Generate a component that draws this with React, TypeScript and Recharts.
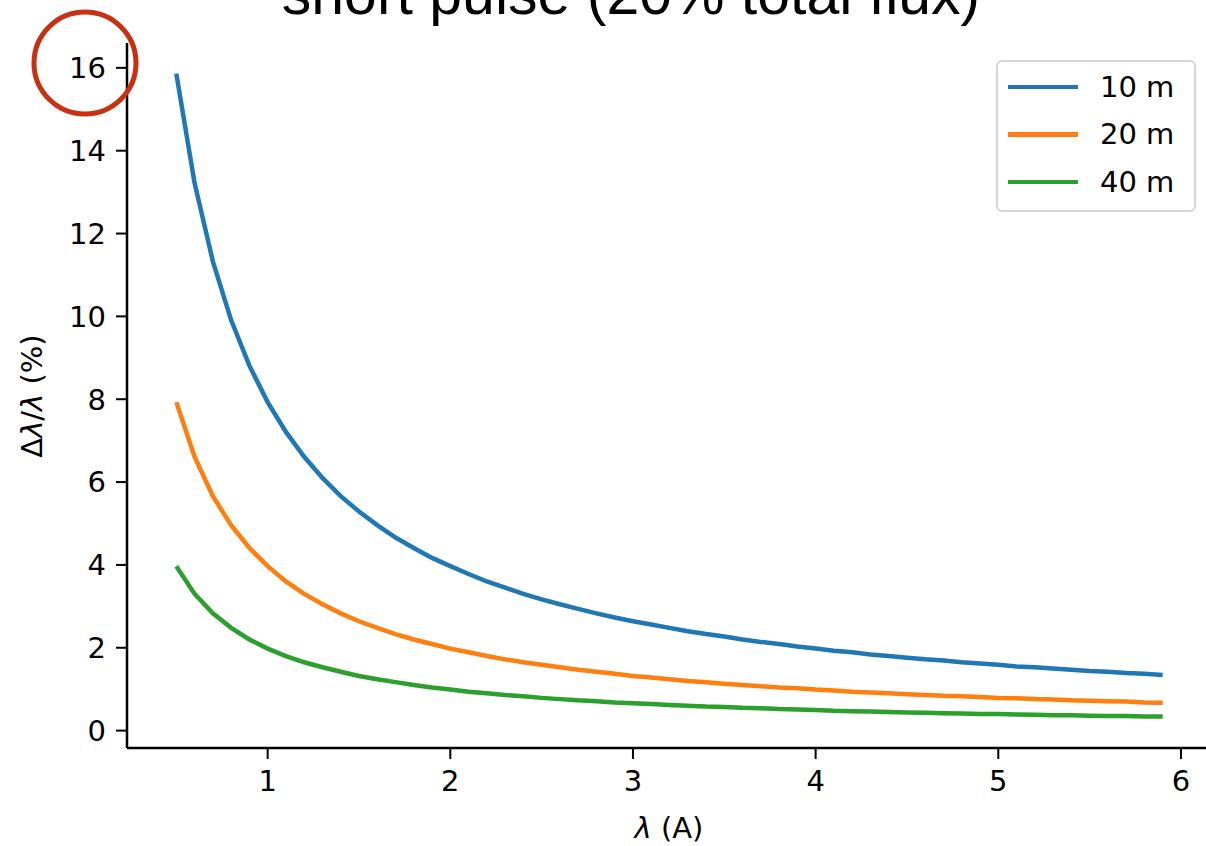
import React from "react"
import { LineChart, Line, XAxis, YAxis, Legend } from "recharts"

// wavelength (A)
const lambda = [
  0.5, 0.6, 0.7, 0.8, 0.9, 1.0, 1.1, 1.2, 1.3, 1.4, 1.5, 1.6, 1.7, 1.8, 1.9,
  2.0, 2.1, 2.2, 2.3, 2.4, 2.5, 2.6, 2.7, 2.8, 2.9, 3.0, 3.1, 3.2, 3.3, 3.4,
  3.5, 3.6, 3.7, 3.8, 3.9, 4.0, 4.1, 4.2, 4.3, 4.4, 4.5, 4.6, 4.7, 4.8, 4.9,
  5.0, 5.1, 5.2, 5.3, 5.4, 5.5, 5.6, 5.7, 5.8, 5.9,
]

// dl/l (%) per flight path
const res10m = [
  15.86, 13.22, 11.33, 9.91, 8.81, 7.93, 7.21, 6.61, 6.10, 5.66, 5.29, 4.96, 4.66, 4.41, 4.17,
  3.97, 3.78, 3.60, 3.45, 3.30, 3.17, 3.05, 2.94, 2.83, 2.73, 2.64, 2.56, 2.48, 2.40, 2.33,
  2.27, 2.20, 2.14, 2.09, 2.03, 1.98, 1.93, 1.89, 1.84, 1.80, 1.76, 1.72, 1.69, 1.65, 1.62,
  1.59, 1.55, 1.53, 1.50, 1.47, 1.44, 1.42, 1.39, 1.37, 1.34,
]
const res20m = [
  7.93, 6.61, 5.66, 4.96, 4.41, 3.97, 3.60, 3.30, 3.05, 2.83, 2.64, 2.48, 2.33, 2.20, 2.09,
  1.98, 1.89, 1.80, 1.72, 1.65, 1.59, 1.53, 1.47, 1.42, 1.37, 1.32, 1.28, 1.24, 1.20, 1.17,
  1.13, 1.10, 1.07, 1.04, 1.02, 0.99, 0.97, 0.94, 0.92, 0.90, 0.88, 0.86, 0.84, 0.83, 0.81,
  0.79, 0.78, 0.76, 0.75, 0.73, 0.72, 0.71, 0.70, 0.68, 0.67,
]
const res40m = [
  3.97, 3.30, 2.83, 2.48, 2.20, 1.98, 1.80, 1.65, 1.53, 1.42, 1.32, 1.24, 1.17, 1.10, 1.04,
  0.99, 0.94, 0.90, 0.86, 0.83, 0.79, 0.76, 0.73, 0.71, 0.68, 0.66, 0.64, 0.62, 0.60, 0.58,
  0.57, 0.55, 0.54, 0.52, 0.51, 0.50, 0.48, 0.47, 0.46, 0.45, 0.44, 0.43, 0.42, 0.41, 0.40,
  0.40, 0.39, 0.38, 0.37, 0.37, 0.36, 0.35, 0.35, 0.34, 0.34,
]

const xTicks = [1, 2, 3, 4, 5, 6]
const yTicks = [0, 2, 4, 6, 8, 10, 12, 14, 16]

const series = [
  { key: "m10", name: "10 m", color: "#1f77b4" },
  { key: "m20", name: "20 m", color: "#ff7f0e" },
  { key: "m40", name: "40 m", color: "#2ca02c" },
]

const data = lambda.map((x, i) => ({ x, m10: res10m[i], m20: res20m[i], m40: res40m[i] }))

const FONT = "'DejaVu Sans', sans-serif"
const tickStyle = { fontSize: 29, fill: "#000", fontFamily: FONT }

function LegendBox({ payload }: any) {
  return (
    <div
      style={{
        boxSizing: "border-box",
        width: 200,
        height: 152,
        border: "2px solid #d6d6d6",
        borderRadius: 6,
        background: "#fff",
        padding: "1px 0 0 10px",
        fontFamily: FONT,
        fontSize: 29,
        textAlign: "left",
      }}
    >
      {(payload || []).map((p: any) => (
        <div key={p.value} style={{ display: "flex", alignItems: "center", height: 47.5 }}>
          <div style={{ width: 70, height: 4.5, background: p.color }} />
          <span style={{ marginLeft: 22, color: "#000" }}>{p.value}</span>
        </div>
      ))}
    </div>
  )
}

export default function App() {
  return (
    <div style={{ position: "absolute", left: 0, top: 0, width: 1206, height: 846, overflow: "hidden", background: "#fff" }}>
      <LineChart width={1220} height={846} data={data} margin={{ top: 43, right: 8, left: 0, bottom: 0 }}>
        <XAxis
          dataKey="x"
          type="number"
          domain={[0.23, 6.17]}
          ticks={xTicks}
          allowDataOverflow
          height={98}
          tick={tickStyle}
          tickSize={11}
          tickMargin={11}
          axisLine={{ stroke: "#000", strokeWidth: 2.5 }}
          tickLine={{ stroke: "#000", strokeWidth: 2 }}
        />
        <XAxis
          xAxisId="top"
          orientation="top"
          dataKey="x"
          type="number"
          domain={[0.23, 6.17]}
          height={0}
          tick={false}
          tickLine={false}
          axisLine={{ stroke: "#000", strokeWidth: 2.5 }}
        />
        <YAxis
          type="number"
          domain={[-0.42, 16.6]}
          ticks={yTicks}
          allowDataOverflow
          width={127}
          tick={tickStyle}
          tickSize={11}
          tickMargin={10}
          axisLine={{ stroke: "#000", strokeWidth: 2.5 }}
          tickLine={{ stroke: "#000", strokeWidth: 2 }}
        />
        <Legend
          layout="horizontal"
          align="center"
          verticalAlign="middle"
          wrapperStyle={{ position: "absolute", top: 60, left: 996, width: 200, height: 152 }}
          content={<LegendBox />}
        />
        {series.map((s) => (
          <Line
            key={s.key}
            dataKey={s.key}
            name={s.name}
            type="linear"
            stroke={s.color}
            strokeWidth={4.5}
            dot={false}
            activeDot={false}
            isAnimationActive={false}
          />
        ))}
      </LineChart>
      <svg
        width={1206}
        height={846}
        style={{ position: "absolute", left: 0, top: 0, pointerEvents: "none" }}
      >
        <text x={631} y={14} textAnchor="middle" fontFamily="'Liberation Sans', sans-serif" fontSize={59} fill="#000">
          short pulse (20% total flux)
        </text>
        <text
          x={0}
          y={0}
          transform="translate(42 396) rotate(-90)"
          textAnchor="middle"
          fontFamily={FONT}
          fontSize={29}
          fill="#000"
        >
          Δ<tspan fontStyle="italic">λ</tspan>/<tspan fontStyle="italic">λ</tspan> (%)
        </text>
        <text x={669} y={838} textAnchor="middle" fontFamily={FONT} fontSize={29} fill="#000">
          <tspan fontStyle="italic">λ</tspan> (A)
        </text>
        <circle cx={85} cy={63} r={51} fill="none" stroke="#c9300f" strokeWidth={5} />
      </svg>
    </div>
  )
}
